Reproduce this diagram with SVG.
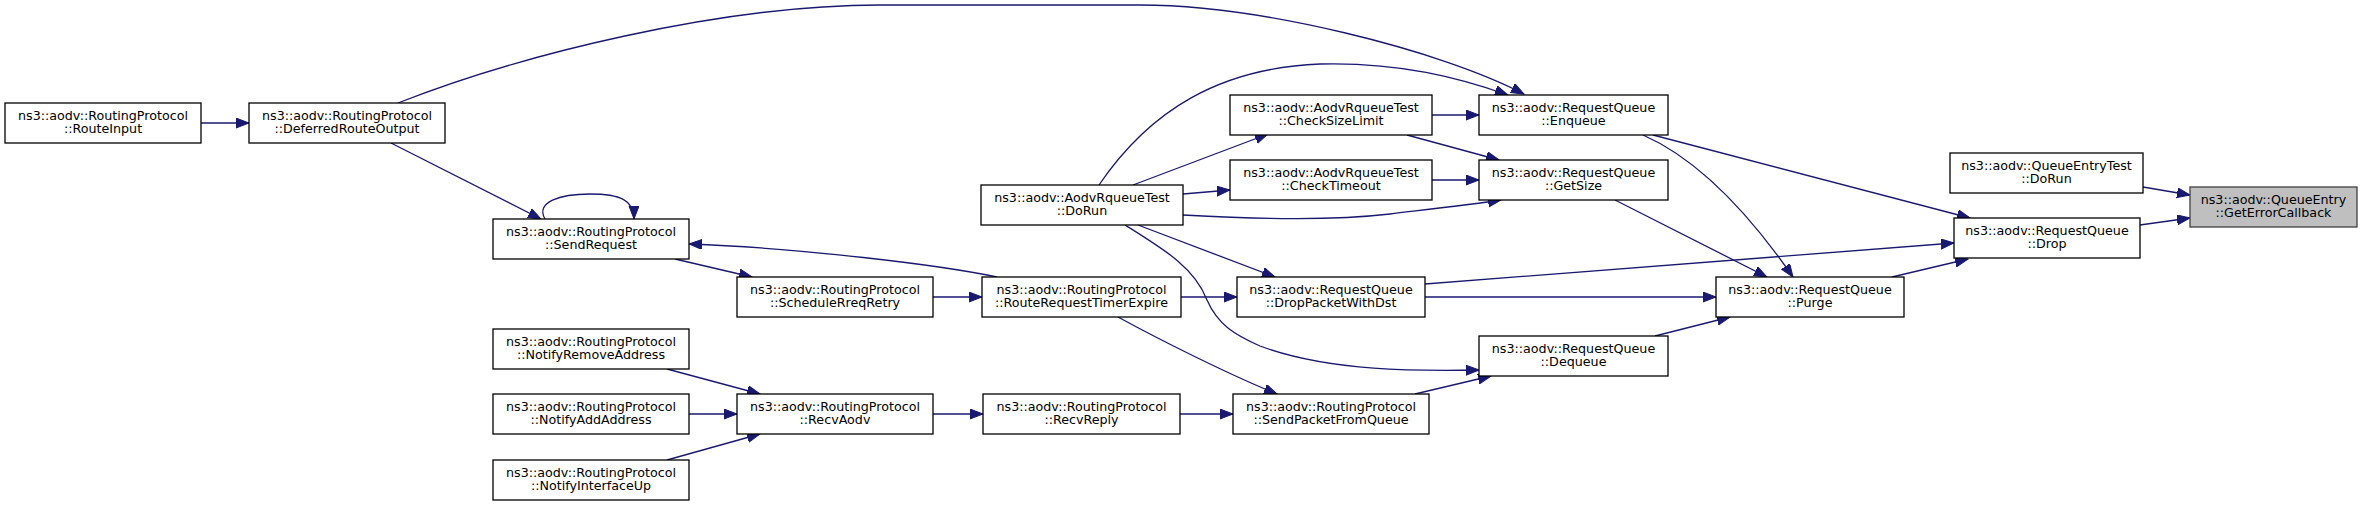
<svg xmlns="http://www.w3.org/2000/svg" width="2369" height="506" viewBox="0 0 2369 506">
<style>
.n rect{fill:#fff;stroke:#000;stroke-width:1.3}
.n.hl rect{fill:#bfbfbf;stroke:#404040}
.n text{font-family:"DejaVu Sans","Liberation Sans",sans-serif;font-size:12.7px;text-anchor:middle;fill:#000}
.e path{fill:none;stroke:#191970;stroke-width:1.3;marker-end:url(#ah)}
</style>
<defs>
<marker id="ah" markerUnits="userSpaceOnUse" markerWidth="14" markerHeight="11" refX="13" refY="5" orient="auto" viewBox="0 0 14 11">
<path d="M0,0 L13,5 L0,10 z" fill="#191970" stroke="#191970" stroke-width="1"/>
</marker>
</defs>
<rect width="2369" height="506" fill="#fff"/>
<g id="edges" class="e">
<path d="M201,123 L249,123"/>
<path d="M391,143 L541,219"/>
<path d="M398,103 C520,55 720,5 880,5 L1140,5 C1260,5 1440,50 1524,94"/>
<path d="M545,219 C535,202 560,194 590,194 C620,194 634,200 634,219"/>
<path d="M675,259 L752,277"/>
<path d="M933,297 L982,297"/>
<path d="M997,277 C940,265 800,248 689,244"/>
<path d="M1181,297 L1237,297"/>
<path d="M1118,317 C1160,340 1230,375 1277,394"/>
<path d="M667,369 L760,394"/>
<path d="M689,414 L737,414"/>
<path d="M667,460 L760,434"/>
<path d="M933,414 L983,414"/>
<path d="M1180,414 L1233,414"/>
<path d="M1415,394 L1491,376"/>
<path d="M1125,225 C1165,250 1195,268 1207,300 C1218,325 1235,335 1260,346 C1330,372 1420,371 1479,370"/>
<path d="M1138,225 L1275,277"/>
<path d="M1183,194 L1230,190"/>
<path d="M1133,185 L1268,134"/>
<path d="M1183,215 C1260,219 1330,221 1390,214 C1440,208 1475,204 1501,200"/>
<path d="M1099,185 C1150,110 1220,68 1320,64 C1400,62 1460,78 1508,95"/>
<path d="M1432,115 L1479,115"/>
<path d="M1407,135 L1499,160"/>
<path d="M1432,180 L1479,180"/>
<path d="M1653,135 L1970,218"/>
<path d="M1643,135 C1700,160 1750,215 1793,277"/>
<path d="M1615,200 L1767,277"/>
<path d="M1425,297 L1716,297"/>
<path d="M1425,284 L1954,243"/>
<path d="M1655,336 L1730,317"/>
<path d="M1892,277 L1968,259"/>
<path d="M2143,187 L2190,195"/>
<path d="M2140,225 L2190,218"/>
</g>
<g id="n_RouteInput" class="n"><rect x="5" y="103" width="196" height="40"/><text x="103" y="119.5">ns3::aodv::RoutingProtocol</text><text x="103" y="133">::RouteInput</text></g>
<g id="n_DeferredRouteOutput" class="n"><rect x="249" y="103" width="196" height="40"/><text x="347" y="119.5">ns3::aodv::RoutingProtocol</text><text x="347" y="133">::DeferredRouteOutput</text></g>
<g id="n_SendRequest" class="n"><rect x="493" y="219" width="196" height="40"/><text x="591" y="235.5">ns3::aodv::RoutingProtocol</text><text x="591" y="249">::SendRequest</text></g>
<g id="n_NotifyRemoveAddress" class="n"><rect x="493" y="329" width="196" height="40"/><text x="591" y="345.5">ns3::aodv::RoutingProtocol</text><text x="591" y="359">::NotifyRemoveAddress</text></g>
<g id="n_NotifyAddAddress" class="n"><rect x="493" y="394" width="196" height="40"/><text x="591" y="410.5">ns3::aodv::RoutingProtocol</text><text x="591" y="424">::NotifyAddAddress</text></g>
<g id="n_NotifyInterfaceUp" class="n"><rect x="493" y="460" width="196" height="40"/><text x="591" y="476.5">ns3::aodv::RoutingProtocol</text><text x="591" y="490">::NotifyInterfaceUp</text></g>
<g id="n_ScheduleRreqRetry" class="n"><rect x="737" y="277" width="196" height="40"/><text x="835" y="293.5">ns3::aodv::RoutingProtocol</text><text x="835" y="307">::ScheduleRreqRetry</text></g>
<g id="n_RecvAodv" class="n"><rect x="737" y="394" width="196" height="40"/><text x="835" y="410.5">ns3::aodv::RoutingProtocol</text><text x="835" y="424">::RecvAodv</text></g>
<g id="n_AodvRqueueTest_DoRun" class="n"><rect x="981" y="185" width="202" height="40"/><text x="1082" y="201.5">ns3::aodv::AodvRqueueTest</text><text x="1082" y="215">::DoRun</text></g>
<g id="n_RouteRequestTimerExpire" class="n"><rect x="982" y="277" width="199" height="40"/><text x="1081.5" y="293.5">ns3::aodv::RoutingProtocol</text><text x="1081.5" y="307">::RouteRequestTimerExpire</text></g>
<g id="n_RecvReply" class="n"><rect x="983" y="394" width="197" height="40"/><text x="1081.5" y="410.5">ns3::aodv::RoutingProtocol</text><text x="1081.5" y="424">::RecvReply</text></g>
<g id="n_CheckSizeLimit" class="n"><rect x="1230" y="95" width="202" height="40"/><text x="1331" y="111.5">ns3::aodv::AodvRqueueTest</text><text x="1331" y="125">::CheckSizeLimit</text></g>
<g id="n_CheckTimeout" class="n"><rect x="1230" y="160" width="202" height="40"/><text x="1331" y="176.5">ns3::aodv::AodvRqueueTest</text><text x="1331" y="190">::CheckTimeout</text></g>
<g id="n_DropPacketWithDst" class="n"><rect x="1237" y="277" width="188" height="40"/><text x="1331" y="293.5">ns3::aodv::RequestQueue</text><text x="1331" y="307">::DropPacketWithDst</text></g>
<g id="n_SendPacketFromQueue" class="n"><rect x="1233" y="394" width="196" height="40"/><text x="1331" y="410.5">ns3::aodv::RoutingProtocol</text><text x="1331" y="424">::SendPacketFromQueue</text></g>
<g id="n_Enqueue" class="n"><rect x="1479" y="95" width="189" height="40"/><text x="1573.5" y="111.5">ns3::aodv::RequestQueue</text><text x="1573.5" y="125">::Enqueue</text></g>
<g id="n_GetSize" class="n"><rect x="1479" y="160" width="189" height="40"/><text x="1573.5" y="176.5">ns3::aodv::RequestQueue</text><text x="1573.5" y="190">::GetSize</text></g>
<g id="n_Dequeue" class="n"><rect x="1479" y="336" width="189" height="40"/><text x="1573.5" y="352.5">ns3::aodv::RequestQueue</text><text x="1573.5" y="366">::Dequeue</text></g>
<g id="n_Purge" class="n"><rect x="1716" y="277" width="188" height="40"/><text x="1810" y="293.5">ns3::aodv::RequestQueue</text><text x="1810" y="307">::Purge</text></g>
<g id="n_QueueEntryTest_DoRun" class="n"><rect x="1950" y="153" width="193" height="40"/><text x="2046.5" y="169.5">ns3::aodv::QueueEntryTest</text><text x="2046.5" y="183">::DoRun</text></g>
<g id="n_Drop" class="n"><rect x="1954" y="218" width="186" height="40"/><text x="2047" y="234.5">ns3::aodv::RequestQueue</text><text x="2047" y="248">::Drop</text></g>
<g id="n_GetErrorCallback" class="n hl"><rect x="2190" y="187" width="167" height="40"/><text x="2273.5" y="203.5">ns3::aodv::QueueEntry</text><text x="2273.5" y="217">::GetErrorCallback</text></g>
</svg>
